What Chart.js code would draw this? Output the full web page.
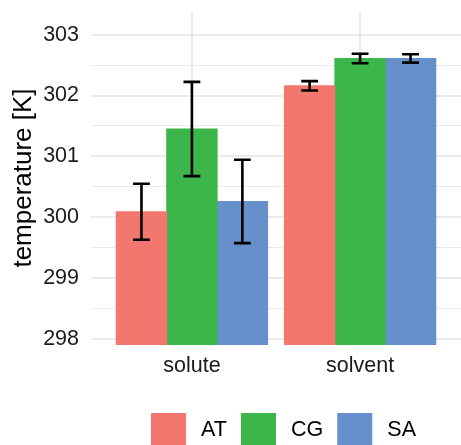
<!DOCTYPE html>
<html>
<head>
<meta charset="utf-8">
<script src="https://cdn.jsdelivr.net/npm/chart.js@4.4.0/dist/chart.umd.min.js"></script>
<style>
  html, body { margin: 0; padding: 0; background: #fff; overflow: hidden; }
  #wrap { width: 461px; height: 445px; overflow: hidden; }
</style>
</head>
<body>
<div id="wrap"><canvas id="myChart" width="461" height="458"></canvas></div>
<script>
const groups = ["solute", "solvent"];
const seriesNames = ["AT", "CG", "SA"];
const atValues = [300.09, 302.16];
const cgValues = [301.45, 302.61];
const saValues = [300.26, 302.61];
const atErrors = [0.46, 0.077];
const cgErrors = [0.775, 0.078];
const saErrors = [0.685, 0.068];
const yTicks = [298, 299, 300, 301, 302, 303];
const yMinorTicks = [298.5, 299.5, 300.5, 301.5, 302.5];

const seriesColors = ["#f2776f", "#3cb54b", "#6690cb"];
const fontFamily = "'Liberation Sans', Arial, Helvetica, sans-serif";

const makeData = values => values.map((v, i) => ({ x: i + 1, y: v }));

// mean +/- error whiskers, drawn on top of the bars
const errorBars = {
  id: "errorBars",
  afterDatasetsDraw(chart) {
    const ctx = chart.ctx;
    const xScale = chart.scales.x;
    const yScale = chart.scales.y;
    const capHalf = (xScale.getPixelForValue(1.05) - xScale.getPixelForValue(1));
    ctx.save();
    ctx.strokeStyle = "#000";
    ctx.lineWidth = 2.6;
    chart.data.datasets.forEach((ds, i) => {
      const meta = chart.getDatasetMeta(i);
      meta.data.forEach((bar, j) => {
        const mean = ds.data[j].y;
        const err = ds.errors[j];
        const top = yScale.getPixelForValue(mean + err);
        const bottom = yScale.getPixelForValue(mean - err);
        const x = bar.x;
        ctx.beginPath();
        ctx.moveTo(x, top);
        ctx.lineTo(x, bottom);
        ctx.moveTo(x - capHalf, top);
        ctx.lineTo(x + capHalf, top);
        ctx.moveTo(x - capHalf, bottom);
        ctx.lineTo(x + capHalf, bottom);
        ctx.stroke();
      });
    });
    ctx.restore();
  }
};

// legend sits a bit right of the canvas centre, like the panel
const shiftLegend = {
  id: "shiftLegend",
  beforeDraw(chart) {
    const legend = chart.legend;
    const shift = 53;
    legend.left += shift;
    legend.right += shift;
  }
};

const ctx = document.getElementById("myChart").getContext("2d");
new Chart(ctx, {
  type: "bar",
  data: {
    datasets: [
      { label: seriesNames[0], data: makeData(atValues), errors: atErrors, backgroundColor: seriesColors[0] },
      { label: seriesNames[1], data: makeData(cgValues), errors: cgErrors, backgroundColor: seriesColors[1] },
      { label: seriesNames[2], data: makeData(saValues), errors: saErrors, backgroundColor: seriesColors[2] }
    ]
  },
  options: {
    responsive: false,
    animation: false,
    devicePixelRatio: 1,
    layout: { padding: { top: 11, left: 0, right: 0, bottom: 0 } },
    datasets: {
      bar: { categoryPercentage: 0.9, barPercentage: 1, borderWidth: 0, inflateAmount: 0.5 }
    },
    scales: {
      x: {
        type: "linear",
        min: 0.4,
        max: 2.6,
        offset: false,
        afterBuildTicks: scale => {
          scale.ticks = groups.map((g, i) => ({ value: i + 1 }));
        },
        afterFit: scale => {
          scale.height = 54;
          scale.paddingLeft = 0;
          scale.paddingRight = 0;
        },
        ticks: {
          callback: value => groups[value - 1],
          color: "#1a1a1a",
          font: { family: fontFamily, size: 21.5 },
          padding: 8,
          maxRotation: 0
        },
        grid: { color: "#ebebeb", lineWidth: 2, drawTicks: false, offset: false },
        border: { display: false }
      },
      y: {
        type: "linear",
        min: 297.9,
        max: 303.39,
        afterBuildTicks: scale => {
          scale.ticks = yTicks.concat(yMinorTicks).sort((a, b) => a - b).map(v => ({ value: v }));
        },
        afterFit: scale => {
          scale.width = 91;
          scale.paddingTop = 0;
          scale.paddingBottom = 0;
        },
        ticks: {
          callback: value => (yTicks.includes(value) ? String(value) : ""),
          color: "#1a1a1a",
          font: { family: fontFamily, size: 21.5 },
          padding: 12
        },
        grid: {
          color: "#ebebeb",
          lineWidth: c => (c.tick && yTicks.includes(c.tick.value) ? 2 : 1),
          drawTicks: false
        },
        border: { display: false },
        title: {
          display: true,
          text: "temperature [K]",
          color: "#000",
          font: { family: fontFamily, size: 26 },
          padding: { top: 8, bottom: 0 }
        }
      }
    },
    plugins: {
      legend: {
        position: "bottom",
        labels: {
          boxWidth: 35,
          boxHeight: 35,
          padding: 14,
          color: "#000",
          font: { family: fontFamily, size: 21.5 },
          // thin space widens the gap between key and text a little
          generateLabels: chart =>
            Chart.defaults.plugins.legend.labels.generateLabels(chart).map(item => ({ ...item, text: "\u2009" + item.text }))
        }
      },
      tooltip: { enabled: false }
    }
  },
  plugins: [errorBars, shiftLegend]
});
</script>
</body>
</html>
